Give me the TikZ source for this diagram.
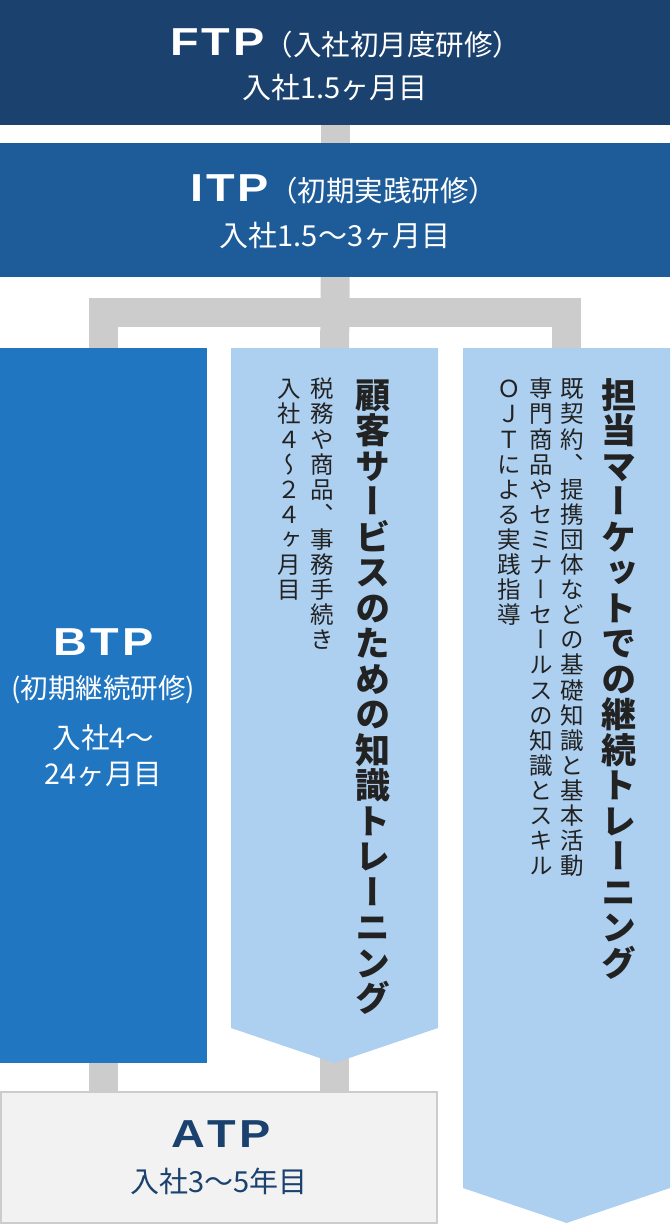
\documentclass[tikz,border=0pt]{standalone}
\usepackage{fontspec}
\setmainfont{Noto Sans CJK JP}
\newfontfamily\jpv[RawFeature=+vert]{Noto Sans CJK JP}
\newfontfamily\latf[FakeStretch=1.2]{Liberation Sans}
\usetikzlibrary{backgrounds}
\definecolor{ftpc}{HTML}{1B416E}
\definecolor{itpc}{HTML}{1E5C99}
\definecolor{btpc}{HTML}{2176C2}
\definecolor{lbc}{HTML}{AED0F0}
\definecolor{connc}{HTML}{CCCCCC}
\definecolor{atpbg}{HTML}{F2F2F2}
\definecolor{vtc}{HTML}{222222}
\definecolor{atpt}{HTML}{1B416E}
\def\vstk#1{\ifx\relax#1\else\hbox to 1em{\hss\vrule height .88em depth .12em width 0pt #1\hss}\expandafter\vstk\fi}
\newcommand\vcol[3]{\vbox{#2\baselineskip=#1\lineskiplimit=-\maxdimen\lineskip=0pt\relax\vstk#3\relax}}
\newcommand\biglat[1]{{\fontsize{39pt}{39pt}\latf\bfseries #1}}
\newcommand\parl[2]{{\fontsize{#1}{#1}\selectfont #2}}
\tikzset{
  boxn/.style={rectangle, inner sep=0pt, outer sep=0pt, draw=none},
  conn/.style={draw=connc, line width=29pt},
  wtext/.style={text=white, inner sep=0pt, anchor=base},
  atext/.style={text=atpt, inner sep=0pt, anchor=base},
  vtext/.style={text=vtc, inner sep=0pt, anchor=north},
  lbfill/.style={fill=lbc}
}
\begin{document}
\begin{tikzpicture}[x=1pt,y=-1pt]
\useasboundingbox (0,0) rectangle (670,1224);
% boxes
\node[boxn, fill=ftpc, minimum width=670pt, minimum height=125pt] (ftp) at (335,62.5) {};
\node[boxn, fill=itpc, minimum width=670pt, minimum height=134pt] (itp) at (335,210) {};
\node[boxn, fill=btpc, minimum width=207pt, minimum height=715pt] (btp) at (103.5,705.5) {};
\node[boxn, minimum width=207pt, minimum height=715pt] (mid) at (334.5,705.5) {};
\fill[lbfill] (mid.north west) -- (mid.north east) -- ([yshift=35pt]mid.south east) -- (mid.south) -- ([yshift=35pt]mid.south west) -- cycle;
\node[boxn, minimum width=207pt, minimum height=875pt] (rcol) at (566.5,785.5) {};
\fill[lbfill] (rcol.north west) -- (rcol.north east) -- ([yshift=35pt]rcol.south east) -- (rcol.south) -- ([yshift=35pt]rcol.south west) -- cycle;
\node[boxn, fill=atpbg, draw=connc, line width=2pt, minimum width=436pt, minimum height=131pt] (atp) at (219,1157.5) {};
% connectors
\begin{scope}[on background layer]
\coordinate (jn) at (335,312.5);
\draw[conn] (ftp.south) -- (itp.north);
\draw[conn] (itp.south) -- (jn) -- (mid.north);
\draw[conn] (btp.north) |- (jn) -| (rcol.north);
\draw[conn] (btp.south) -- (btp.south |- atp.north);
\draw[conn] ([yshift=10pt]mid.south) -- (mid.south |- atp.north);
\end{scope}
% horizontal texts
\node[wtext, anchor=base west] (ftpt) at (170,55) {\biglat{F\kern3pt T\kern3pt P}\parl{28.5pt}{（入社初月度研修）}};
\node[wtext] (ftps) at (335,98) {\parl{29pt}{入社1.5ヶ月目}};
\node[wtext, anchor=base west] (itpt) at (190,201) {\biglat{I\kern3pt T\kern3pt P}\parl{28.5pt}{（初期実践研修）}};
\node[wtext] (itps) at (335,246) {\parl{29pt}{入社1.5～3ヶ月目}};
\node[wtext] (btpt) at (103.5,655) {\biglat{B\kern3pt T\kern3pt P}};
\node[wtext] (btps) at (103.5,698) {\parl{27.5pt}{(初期継続研修)}};
\node[wtext] (btpa) at (103.5,748) {\parl{28.5pt}{入社4～}};
\node[wtext] (btpb) at (103.5,784) {\parl{28.5pt}{24ヶ月目}};
\node[atext] (atpt) at (221,1147) {\biglat{A\kern3pt T\kern3pt P}};
\node[atext] (atps) at (219,1192) {\parl{29pt}{入社3～5年目}};
% vertical texts
\node[vtext] (mt) at (372.5,377) {\vcol{35.5pt}{\fontsize{35pt}{35pt}\jpv\bfseries}{顧客サービスのための知識トレーニング}};
\node[vtext] (m1) at (322,377) {\vcol{25.1pt}{\fontsize{23.5pt}{25pt}\jpv}{税務や商品、事務手続き}};
\node[vtext] (m2) at (289,377) {\vcol{25.1pt}{\fontsize{23.5pt}{25pt}\jpv}{入社４～２４ヶ月目}};
\node[vtext] (rt) at (619,377) {\vcol{35.5pt}{\fontsize{35pt}{35pt}\jpv\bfseries}{担当マーケットでの継続トレーニング}};
\node[vtext] (r1) at (572.5,377) {\vcol{25.1pt}{\fontsize{23.5pt}{25pt}\jpv}{既契約、提携団体などの基礎知識と基本活動}};
\node[vtext] (r2) at (541,377) {\vcol{25.1pt}{\fontsize{23.5pt}{25pt}\jpv}{専門商品やセミナーセールスの知識とスキル}};
\node[vtext] (r3) at (509,377) {\vcol{25.1pt}{\fontsize{23.5pt}{25pt}\jpv}{ＯＪＴによる実践指導}};
\end{tikzpicture}
\end{document}
